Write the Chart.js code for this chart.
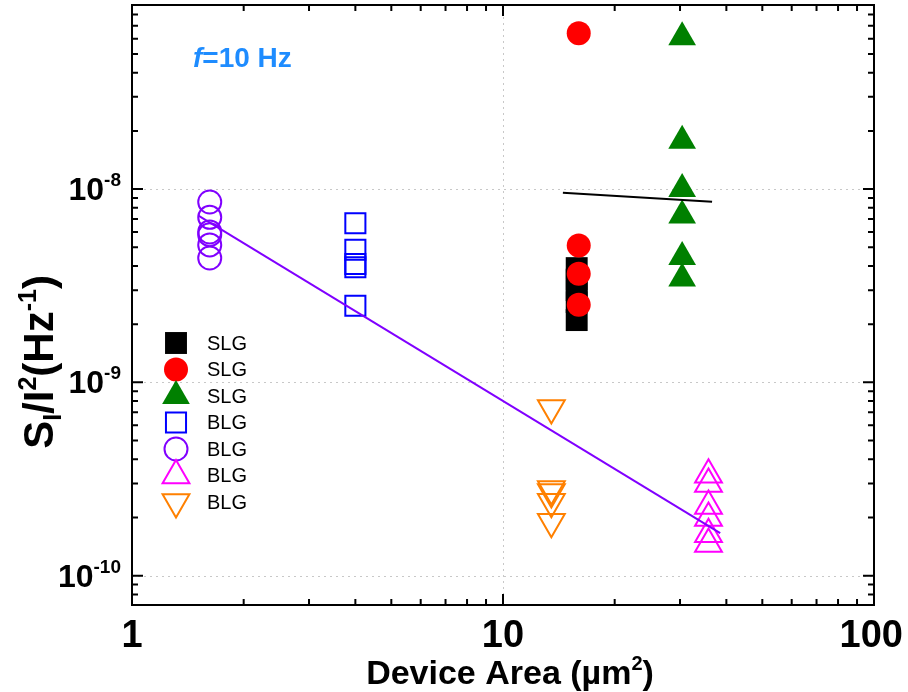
<!DOCTYPE html>
<html>
<head>
<meta charset="utf-8">
<script src="https://cdn.jsdelivr.net/npm/chart.js@4.4.1/dist/chart.umd.min.js"></script>
<style>
  body { margin: 0; background: #fff; }
  canvas { display: block; }
</style>
</head>
<body>
<canvas id="noiseChart" width="908" height="692"></canvas>
<script>
// device area (um^2) of each sample group
const groupLabels = ['SLG', 'SLG', 'SLG', 'BLG', 'BLG', 'BLG', 'BLG'];
const groupArea = [15.8, 16.0, 30.4, 4.0, 1.62, 35.8, 13.5];

// normalized noise S_I/I^2 at f = 10 Hz, one list per group
const slgSquareNoise = [3.9e-9, 3.4e-9, 3.0e-9, 2.6e-9, 2.1e-9];
const slgCircleNoise = [6.4e-8, 5.1e-9, 3.65e-9, 2.52e-9];
const slgTriangleNoise = [6.1e-8, 1.78e-8, 1.0e-8, 7.3e-9, 4.45e-9, 3.45e-9];
const blgSquareNoise = [6.65e-9, 4.85e-9, 4.1e-9, 3.94e-9, 2.49e-9];
const blgCircleNoise = [8.57e-9, 7.14e-9, 6.0e-9, 5.81e-9, 5.14e-9, 4.4e-9];
const blgUpNoise = [3.33e-10, 2.98e-10, 2.29e-10, 1.99e-10, 1.64e-10, 1.46e-10];
const blgDownNoise = [7.36e-10, 2.81e-10, 2.71e-10, 2.41e-10, 1.9e-10];

// fitted trends
const slgFitArea = [14.5, 36.6];
const slgFitNoise = [9.57e-9, 8.6e-9];
const blgFitArea = [1.51, 38.5];
const blgFitNoise = [7.28e-9, 1.66e-10];

// labelled decades
const xTickValues = [1, 10, 100];
const yTickExponents = [-8, -9, -10];

const groupNoise = [slgSquareNoise, slgCircleNoise, slgTriangleNoise,
  blgSquareNoise, blgCircleNoise, blgUpNoise, blgDownNoise];

const markers = [
  { color: '#000000', fill: true, style: 'rect', radius: 15.5, rotation: 0 },
  { color: '#ff0000', fill: true, style: 'circle', radius: 12, rotation: 0 },
  { color: '#008000', fill: true, style: 'triangle', radius: 16, rotation: 0 },
  { color: '#0000ff', fill: false, style: 'rect', radius: 14.2, rotation: 0 },
  { color: '#8000ff', fill: false, style: 'circle', radius: 11.5, rotation: 0 },
  { color: '#ff00ff', fill: false, style: 'triangle', radius: 15.5, rotation: 0 },
  { color: '#ff8000', fill: false, style: 'triangle', radius: 15.5, rotation: 180 }
];

const FONT = '"Liberation Sans", Arial, sans-serif';

const datasets = groupNoise.map((vals, i) => {
  const m = markers[i];
  return {
    label: groupLabels[i],
    data: vals.map(v => ({ x: groupArea[i], y: v })),
    pointStyle: m.style,
    pointRadius: m.radius,
    pointRotation: m.rotation,
    pointBackgroundColor: m.fill ? m.color : 'rgba(0,0,0,0)',
    pointBorderColor: m.color,
    pointBorderWidth: m.fill ? 0 : 2,
    showLine: false,
    order: 10 - i
  };
});

function fitLine(xs, ys, color) {
  return {
    label: 'fit',
    data: xs.map((x, k) => ({ x: x, y: ys[k] })),
    showLine: true,
    borderColor: color,
    borderWidth: 2,
    pointRadius: 0,
    fill: false,
    order: 0
  };
}
datasets.push(fitLine(slgFitArea, slgFitNoise, '#000000'));
datasets.push(fitLine(blgFitArea, blgFitNoise, '#8000ff'));

// text with a raised or lowered small part
function drawRich(ctx, parts, x, y, align) {
  let total = 0;
  parts.forEach(p => { ctx.font = p.font; total += ctx.measureText(p.text).width; });
  let cx = align === 'center' ? x - total / 2 : (align === 'right' ? x - total : x);
  ctx.textAlign = 'left';
  parts.forEach(p => {
    ctx.font = p.font;
    ctx.fillText(p.text, cx, y + (p.dy || 0));
    cx += ctx.measureText(p.text).width;
  });
}

const frame = {
  id: 'frame',
  beforeDatasetsDraw(chart) {
    const { ctx, chartArea: a, scales: { x, y } } = chart;
    ctx.save();
    ctx.strokeStyle = '#c8c8c8';
    ctx.lineWidth = 1;
    ctx.setLineDash([2, 4]);
    xTickValues.forEach(v => {
      const px = Math.round(x.getPixelForValue(v)) + 0.5;
      if (px < a.left + 2 || px > a.right - 2) return;
      ctx.beginPath(); ctx.moveTo(px, a.top); ctx.lineTo(px, a.bottom); ctx.stroke();
    });
    yTickExponents.forEach(e => {
      const py = Math.round(y.getPixelForValue(Math.pow(10, e))) + 0.5;
      ctx.beginPath(); ctx.moveTo(a.left, py); ctx.lineTo(a.right, py); ctx.stroke();
    });
    ctx.restore();
  },
  afterDraw(chart) {
    const { ctx, chartArea: a, scales: { x, y } } = chart;
    ctx.save();
    ctx.strokeStyle = '#000';
    ctx.lineWidth = 2;
    ctx.setLineDash([]);

    // minor and major tick marks on all four sides, pointing inward
    for (let d = 1; d <= 100; d *= 10) {
      for (let k = 1; k <= 9; k++) {
        const v = d * k;
        if (v < x.min || v > x.max) continue;
        const px = x.getPixelForValue(v);
        const len = k === 1 ? 11 : 6;
        ctx.beginPath();
        ctx.moveTo(px, a.bottom); ctx.lineTo(px, a.bottom - len);
        ctx.moveTo(px, a.top); ctx.lineTo(px, a.top + len);
        ctx.stroke();
      }
    }
    for (let e = -11; e <= -8; e++) {
      for (let k = 1; k <= 9; k++) {
        const v = k * Math.pow(10, e);
        if (v < y.min || v > y.max) continue;
        const py = y.getPixelForValue(v);
        const len = k === 1 ? 11 : 6;
        ctx.beginPath();
        ctx.moveTo(a.left, py); ctx.lineTo(a.left + len, py);
        ctx.moveTo(a.right, py); ctx.lineTo(a.right - len, py);
        ctx.stroke();
      }
    }
    ctx.strokeRect(a.left, a.top, a.right - a.left, a.bottom - a.top);

    // tick labels
    ctx.fillStyle = '#000';
    ctx.textBaseline = 'alphabetic';
    ctx.font = 'bold 38px ' + FONT;
    xTickValues.forEach(v => {
      const s = String(v);
      const w = ctx.measureText(s).width;
      let px = x.getPixelForValue(v);
      px = Math.min(px, chart.width - w / 2 - 5);
      ctx.textAlign = 'center';
      ctx.fillText(s, px, a.bottom + 42);
    });
    yTickExponents.forEach(e => {
      const py = y.getPixelForValue(Math.pow(10, e));
      drawRich(ctx, [
        { text: '10', font: 'bold 32px ' + FONT, dy: 11 },
        { text: String(e), font: 'bold 19px ' + FONT, dy: -3 }
      ], a.left - 11, py, 'right');
    });

    // axis titles
    drawRich(ctx, [
      { text: 'Device Area (\u00b5m', font: 'bold 34px ' + FONT },
      { text: '2', font: 'bold 20px ' + FONT, dy: -14 },
      { text: ')', font: 'bold 34px ' + FONT }
    ], 510, 684, 'center');

    ctx.save();
    ctx.translate(53, 362);
    ctx.rotate(-Math.PI / 2);
    drawRich(ctx, [
      { text: 'S', font: 'bold 42px ' + FONT },
      { text: 'I', font: 'bold 25px ' + FONT, dy: 8 },
      { text: '/I', font: 'bold 42px ' + FONT },
      { text: '2', font: 'bold 25px ' + FONT, dy: -17 },
      { text: '(Hz', font: 'bold 42px ' + FONT },
      { text: '-1', font: 'bold 25px ' + FONT, dy: -17 },
      { text: ')', font: 'bold 42px ' + FONT }
    ], 0, 0, 'center');
    ctx.restore();

    // frequency note
    ctx.fillStyle = '#1e8cff';
    drawRich(ctx, [
      { text: 'f', font: 'italic bold 28px ' + FONT },
      { text: '=10 Hz', font: 'bold 28px ' + FONT }
    ], 193, 67, 'left');

    // legend
    ctx.textBaseline = 'middle';
    markers.forEach((m, i) => {
      const ly = 343 + 26.5 * i;
      ctx.fillStyle = m.fill ? m.color : 'rgba(0,0,0,0)';
      ctx.strokeStyle = m.color;
      ctx.lineWidth = m.fill ? 0 : 2;
      Chart.helpers.drawPoint(ctx, {
        pointStyle: m.style, radius: m.radius, rotation: m.rotation,
        borderWidth: m.fill ? 0 : 2
      }, 176, ly);
      ctx.fillStyle = '#000';
      ctx.font = '20px ' + FONT;
      ctx.textAlign = 'left';
      ctx.fillText(groupLabels[i], 207, ly + 1);
    });
    ctx.restore();
  }
};

new Chart(document.getElementById('noiseChart'), {
  type: 'scatter',
  data: { datasets: datasets },
  options: {
    responsive: false,
    animation: false,
    layout: {
      autoPadding: false,
      padding: { left: 132, right: 34, top: 5, bottom: 87 }
    },
    scales: {
      x: { type: 'logarithmic', min: 1, max: 100, display: false },
      y: { type: 'logarithmic', min: 7.05e-11, max: 8.96e-8, display: false }
    },
    plugins: {
      legend: { display: false },
      tooltip: { enabled: false }
    }
  },
  plugins: [frame]
});
</script>
</body>
</html>
